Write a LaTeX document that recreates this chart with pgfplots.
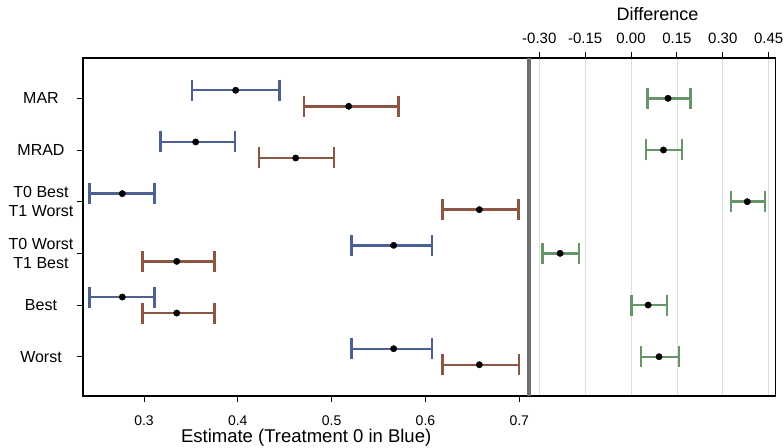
\documentclass[border=0pt]{standalone}
\usepackage{fontspec}
\setmainfont{Liberation Sans}
\usepackage{pgfplots}
\usepackage{pgfplotstable}
\pgfplotsset{compat=1.18}
\definecolor{t0blue}{HTML}{4C6094}
\definecolor{t1red}{HTML}{8C5544}
\definecolor{diffgreen}{HTML}{67956A}
\definecolor{divider}{HTML}{707070}

% rows: 6 MAR, 5 MRAD, 4 T0 Best/T1 Worst, 3 T0 Worst/T1 Best, 2 Best, 1 Worst
\pgfplotstableread{
y     x       lo      hi
6.155 0.3977  0.3512  0.4443
5.155 0.3551  0.3174  0.3970
4.155 0.2769  0.2421  0.3114
3.155 0.5661  0.5213  0.6067
2.155 0.2769  0.2421  0.3114
1.155 0.5661  0.5213  0.6067
}\treatzero
\pgfplotstableread{
y     x       lo      hi
5.845 0.5182  0.4706  0.5714
4.845 0.4617  0.4226  0.5025
3.845 0.6575  0.6180  0.6990
2.845 0.3349  0.2986  0.3750
1.845 0.3349  0.2986  0.3750
0.845 0.6575  0.6180  0.6995
}\treatone
\pgfplotstableread{
y  x        lo      hi
6  0.1210   0.0536  0.1950
5  0.1060   0.0490  0.1660
4  0.3800   0.3260  0.4380
3  -0.2320  -0.2890 -0.1710
2  0.0560   0.0020  0.1170
1  0.0915   0.0320  0.1560
}\diff

\pgfplotsset{
  ci/.style={only marks, mark=*, mark size=3.2pt,
    mark options={black, fill=black},
    error bars/x dir=both, error bars/x explicit,
    error bars/error bar style={draw=#1, line width=2.4pt},
    error bars/error mark options={draw=#1, line width=2.4pt, mark size=10.5pt, rotate=90}},
}

\begin{document}
\begin{tikzpicture}[font=\fontsize{16}{19}\selectfont]
\begin{axis}[
  at={(0pt,0pt)}, anchor=south west, scale only axis,
  width=446.3pt, height=338pt,
  xmin=0.235, xmax=0.7107, ymin=0.24, ymax=6.78,
  xtick={0.3,0.4,0.5,0.6,0.7},
  ytick={1,2,3,4,5,6},
  yticklabels={Worst, Best, {T0 Worst\\T1 Best}, {T0 Best\\T1 Worst}, MRAD, MAR},
  tick pos=left, tick align=outside, major tick length=6pt,
  tick style={black, line width=0.9pt},
  axis line style={black, line width=1.2pt},
  /pgf/number format/assume math mode=true,
  xticklabel style={font=\fontsize{14}{16}\selectfont, yshift=-10pt},
  yticklabel style={font=\fontsize{16}{19}\selectfont, align=center, anchor=center, xshift=-36pt},
  xlabel={Estimate (Treatment 0 in Blue)},
  xlabel style={font=\fontsize{18.5}{22}\selectfont, yshift=3pt},
  clip=false,
]
\addplot+[ci=t0blue] table[x=x, y=y,
  x error plus expr=\thisrow{hi}-\thisrow{x},
  x error minus expr=\thisrow{x}-\thisrow{lo}] {\treatzero};
\addplot+[ci=t1red] table[x=x, y=y,
  x error plus expr=\thisrow{hi}-\thisrow{x},
  x error minus expr=\thisrow{x}-\thisrow{lo}] {\treatone};
\end{axis}
\begin{axis}[
  at={(446.3pt,0pt)}, anchor=south west, scale only axis,
  width=246.4pt, height=338pt,
  xmin=-0.3327, xmax=0.473, ymin=0.24, ymax=6.78,
  xtick={-0.30,-0.15,0,0.15,0.30,0.45},
  ytick=\empty,
  xtick pos=right, xticklabel pos=right,
  tick align=outside, major tick length=6pt,
  tick style={black, line width=0.9pt},
  axis line style={black, line width=1.2pt},
  xmajorgrids, grid style={black!13, line width=0.8pt},
  /pgf/number format/.cd, fixed, fixed zerofill, precision=2, assume math mode=true,
  /pgfplots/.cd,
  xticklabel style={font=\fontsize{15}{17}\selectfont, yshift=5pt},
  title={Difference},
  title style={font=\fontsize{18}{21}\selectfont, at={(0.5,1)}, anchor=center, yshift=38pt, xshift=5pt},
  clip=false,
]
\addplot+[ci=diffgreen] table[x=x, y=y,
  x error plus expr=\thisrow{hi}-\thisrow{x},
  x error minus expr=\thisrow{x}-\thisrow{lo}] {\diff};
\draw[divider, line width=4pt] (rel axis cs:0,0) -- (rel axis cs:0,1);
\end{axis}
\pgfresetboundingbox
\useasboundingbox (-83pt,-51pt) rectangle (701pt,396pt);
\end{tikzpicture}
\end{document}
